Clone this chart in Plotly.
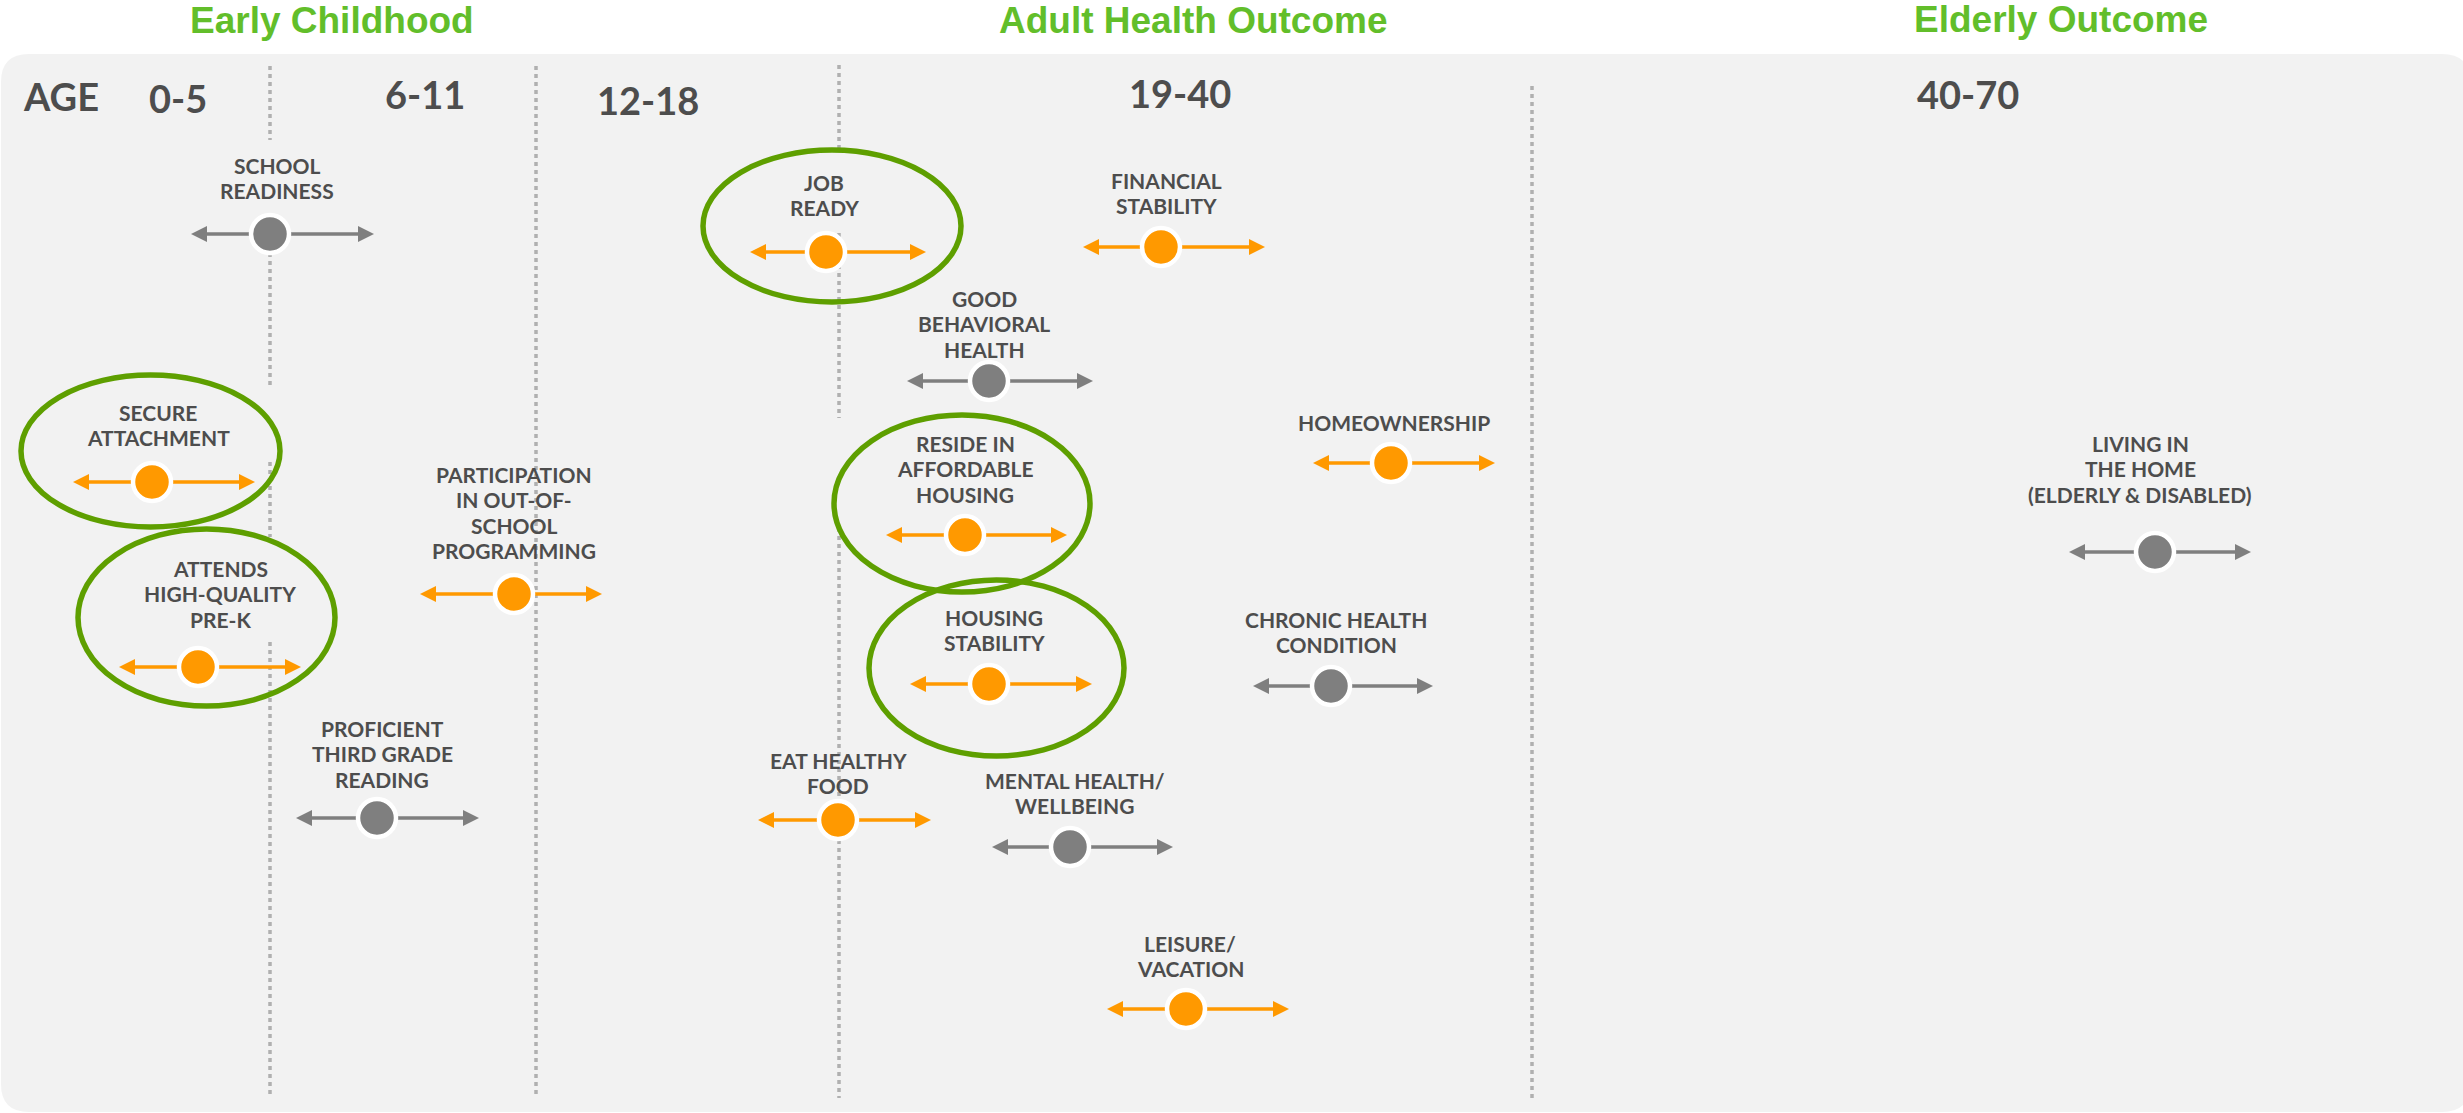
import plotly.graph_objects as go

W, H = 2463, 1113

# ---------------- data ----------------
section_titles = ["Early Childhood", "Adult Health Outcome", "Elderly Outcome"]
section_x = [332, 1193, 2061]
section_y = [20, 20, 19]

age_labels = ["AGE", "0-5", "6-11", "12-18", "19-40", "40-70"]
age_x = [61, 178, 425, 648, 1180, 1968]
age_y = [96, 98, 94, 100, 93, 94]

outcomes = [
    "SCHOOL\nREADINESS",
    "SECURE\nATTACHMENT",
    "ATTENDS\nHIGH-QUALITY\nPRE-K",
    "PARTICIPATION\nIN OUT-OF-\nSCHOOL\nPROGRAMMING",
    "PROFICIENT\nTHIRD GRADE\nREADING",
    "JOB\nREADY",
    "FINANCIAL\nSTABILITY",
    "GOOD\nBEHAVIORAL\nHEALTH",
    "RESIDE IN\nAFFORDABLE\nHOUSING",
    "HOUSING\nSTABILITY",
    "HOMEOWNERSHIP",
    "CHRONIC HEALTH\nCONDITION",
    "EAT HEALTHY\nFOOD",
    "MENTAL HEALTH/\nWELLBEING",
    "LEISURE/\nVACATION",
    "LIVING IN\nTHE HOME\n(ELDERLY & DISABLED)",
]
dot_x = [270, 152, 198, 514, 377, 826, 1161, 989, 965, 989, 1391, 1331, 838, 1070, 1186, 2155]
dot_y = [234, 482, 667, 594, 818, 252, 247, 381, 535, 684, 463, 686, 820, 847, 1009, 552]
arrow_start = [191, 73, 119, 420, 296, 750, 1083, 907, 886, 910, 1313, 1253, 758, 992, 1107, 2069]
arrow_end = [374, 255, 301, 602, 479, 926, 1265, 1093, 1067, 1092, 1495, 1433, 931, 1173, 1289, 2251]
label_x = [277, 158, 220, 514, 382, 824, 1166, 984, 965, 994, 1394, 1336, 838, 1075, 1190, 2140]
label_y = [165, 412, 568, 474, 728, 182, 180, 298, 443, 617, 422, 619, 760, 780, 943, 443]
highlight = [False, True, True, True, False, True, True, False, True, True, True, False, True, False, True, False]

# circled outcomes: bounding boxes of the green ellipses
circle_x0 = [21, 78, 703, 834, 869]
circle_x1 = [280, 335, 961, 1090, 1124]
circle_y0 = [375, 529, 150, 415, 580]
circle_y1 = [527, 706, 302, 592, 756]

# dotted age dividers and their visible segments
divider_x = [270, 536, 839, 1532]
divider_segments = [
    [(66, 140), (213, 388), (462, 537), (642, 1098)],
    [(66, 1098)],
    [(65, 148), (233, 418), (528, 1098)],
    [(86, 1098)],
]

# ---------------- styles ----------------
ORANGE = "#FF9900"
GRAY = "#7F7F7F"
TEXT = "#4D4D4D"
PANEL = "#F2F2F2"
GREEN_RING = "#5E9F00"
GREEN_TITLE = "#62BE2A"
DIVIDER = "#B0B0B0"
LINE_PITCH = 25.6
HEAD_LEN = 16
HEAD_HALF = 8

fig = go.Figure()
shapes = []

# panel (rounded rectangle)
px0, px1, py0, py1, r = 1, 2470, 54, 1112, 28
panel_path = (
    f"M{px0 + r},{py0} L{px1 - r},{py0} Q{px1},{py0} {px1},{py0 + r} "
    f"L{px1},{py1 - r} Q{px1},{py1} {px1 - r},{py1} "
    f"L{px0 + r},{py1} Q{px0},{py1} {px0},{py1 - r} "
    f"L{px0},{py0 + r} Q{px0},{py0} {px0 + r},{py0} Z"
)
shapes.append(dict(type="path", path=panel_path, xref="x", yref="y",
                   fillcolor=PANEL, line=dict(width=0), layer="below"))

# dividers
for dx, segs in zip(divider_x, divider_segments):
    for a, b in segs:
        shapes.append(dict(type="line", x0=dx, x1=dx, y0=a, y1=b, xref="x", yref="y",
                           line=dict(color=DIVIDER, width=3.5, dash="4px,4px"), layer="below"))

# arrows
for xs, xe, y, hl in zip(arrow_start, arrow_end, dot_y, highlight):
    col = ORANGE if hl else GRAY
    shapes.append(dict(type="line", x0=xs + 8, x1=xe - 8, y0=y, y1=y, xref="x", yref="y",
                       line=dict(color=col, width=3.4), layer="below"))
    lp = f"M{xs},{y} L{xs + HEAD_LEN},{y - HEAD_HALF} L{xs + HEAD_LEN},{y + HEAD_HALF} Z"
    rp = f"M{xe},{y} L{xe - HEAD_LEN},{y - HEAD_HALF} L{xe - HEAD_LEN},{y + HEAD_HALF} Z"
    for p in (lp, rp):
        shapes.append(dict(type="path", path=p, xref="x", yref="y",
                           fillcolor=col, line=dict(width=0), layer="below"))

# green ellipses
for x0, x1, y0, y1 in zip(circle_x0, circle_x1, circle_y0, circle_y1):
    shapes.append(dict(type="circle", x0=x0, x1=x1, y0=y0, y1=y1, xref="x", yref="y",
                       line=dict(color=GREEN_RING, width=5.5), fillcolor="rgba(0,0,0,0)",
                       layer="below"))

# dots
fig.add_trace(go.Scatter(
    x=dot_x, y=dot_y, mode="markers",
    marker=dict(size=38, color=[ORANGE if h else GRAY for h in highlight],
                line=dict(color="white", width=4.5)),
    hoverinfo="skip", showlegend=False,
))

annotations = []
# section titles
for t, x, y in zip(section_titles, section_x, section_y):
    annotations.append(dict(text=f"<b>{t}</b>", x=x, y=y, xref="x", yref="y",
                            showarrow=False, xanchor="center", yanchor="middle",
                            font=dict(family="Liberation Sans, Arial", size=37, color=GREEN_TITLE)))
# age labels
for t, x, y in zip(age_labels, age_x, age_y):
    annotations.append(dict(text=t, x=x, y=y, xref="x", yref="y",
                            showarrow=False, xanchor="center", yanchor="middle",
                            font=dict(family="Lato", size=38, color=TEXT, weight=700)))
# outcome labels, one annotation per line
for t, x, y in zip(outcomes, label_x, label_y):
    for i, line in enumerate(t.split("\n")):
        annotations.append(dict(text=line.replace("&", "&amp;"), x=x, y=y + i * LINE_PITCH,
                                xref="x", yref="y", showarrow=False,
                                xanchor="center", yanchor="middle",
                                font=dict(family="Lato", size=21, color=TEXT, weight=700)))

fig.update_layout(
    width=W, height=H,
    margin=dict(l=0, r=0, t=0, b=0),
    paper_bgcolor="white", plot_bgcolor="white",
    xaxis=dict(range=[0, W], visible=False, fixedrange=True),
    yaxis=dict(range=[H, 0], visible=False, fixedrange=True),
    shapes=shapes, annotations=annotations,
)

fig.write_html("out.html", config=dict(displayModeBar=False),
               post_script="document.body.style.margin='0';document.body.style.overflow='hidden';")
